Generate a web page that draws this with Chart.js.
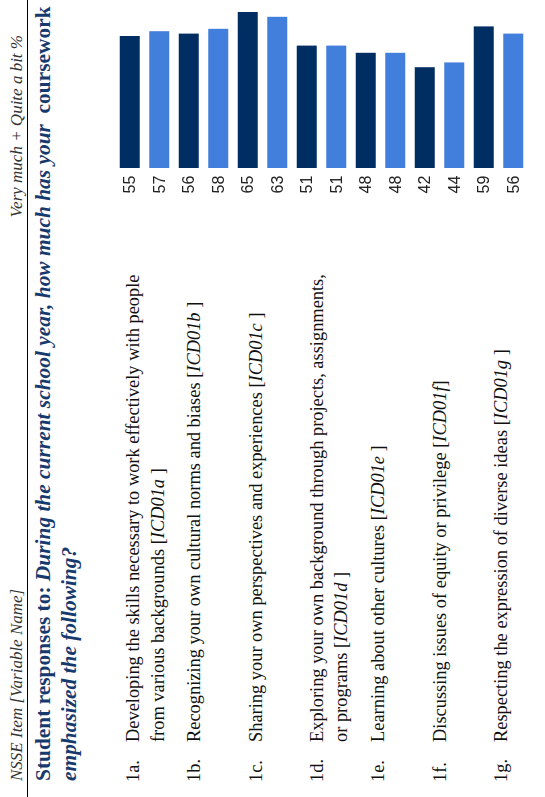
<!DOCTYPE html>
<html>
<head>
<meta charset="utf-8">
<script src="https://cdn.jsdelivr.net/npm/chart.js@4"></script>
<style>
  html, body { margin: 0; padding: 0; background: #fff; }
  body { width: 545px; height: 797px; overflow: hidden; position: relative; }
  #land {
    position: absolute; left: 0; top: 0; width: 797px; height: 545px;
    transform-origin: 0 0; transform: translateY(797px) rotate(-90deg);
    overflow: hidden; background: #fff;
    font-family: "Liberation Serif", "Times New Roman", serif; color: #111;
  }
  .hdr { position: absolute; top: 7px; font-size: 17px; line-height: 20px; font-style: italic; color: #333; white-space: nowrap; }
  #rule { position: absolute; left: 0; top: 27px; width: 797px; height: 1px; background: #000; }
  #title { position: absolute; left: 16px; top: 30px; font-size: 21.4px; line-height: 26px; font-weight: bold; color: #173a6e; white-space: nowrap; }
  .row { position: absolute; left: 0; font-size: 18.4px; line-height: 24.5px; white-space: nowrap; }
  .row .code { position: absolute; left: 15px; top: 0; }
  .row .txt { position: absolute; left: 55px; top: 0; }
  #wrap { position: absolute; left: 580px; top: 100px; width: 217px; height: 445px; }
</style>
</head>
<body>
<div id="land">
  <div class="hdr" style="left:16px">NSSE Item [Variable Name]</div>
  <div class="hdr" style="right:35px">Very much + Quite a bit %</div>
  <div id="rule"></div>
  <div id="title">Student responses to: <i>During the current school year, how much has your</i>&nbsp; coursework<br><i>emphasized the following?</i></div>
  <div id="items"></div>
  <div id="wrap"><canvas id="chart" width="217" height="445"></canvas></div>
</div>
<script>
const itemCodes = ['1a.', '1b.', '1c.', '1d.', '1e.', '1f.', '1g.'];
const itemLines = [
  ['Developing the skills necessary to work effectively with people', 'from various backgrounds'],
  ['Recognizing your own cultural norms and biases'],
  ['Sharing your own perspectives and experiences'],
  ['Exploring your own background through projects, assignments,', 'or programs'],
  ['Learning about other cultures'],
  ['Discussing issues of equity or privilege'],
  ['Respecting the expression of diverse ideas']
];
const varNames = ['ICD01a', 'ICD01b', 'ICD01c', 'ICD01d', 'ICD01e', 'ICD01f', 'ICD01g'];
const varClose = [' ]', ' ]', ' ]', ' ]', ' ]', ']', ' ]'];
const institution = [55, 56, 65, 51, 48, 42, 59];
const comparison = [57, 58, 63, 51, 48, 44, 56];

const darkBlue = '#002d62';
const lightBlue = '#427edc';

// item text on the left
const items = document.getElementById('items');
itemCodes.forEach((code, i) => {
  const row = document.createElement('div');
  row.className = 'row';
  row.style.top = (121 + i * 61.33) + 'px';
  const lines = itemLines[i].slice();
  const last = lines.length - 1;
  lines[last] = lines[last] + ' [<i>' + varNames[i] + '</i>' + varClose[i];
  row.innerHTML = '<span class="code">' + code + '</span><span class="txt">' + lines.join('<br>') + '</span>';
  items.appendChild(row);
});

const valueLabels = {
  id: 'valueLabels',
  afterDatasetsDraw(chart) {
    const ctx = chart.ctx;
    ctx.save();
    ctx.font = '16px "Liberation Sans", Arial, sans-serif';
    ctx.fillStyle = '#222';
    ctx.textAlign = 'center';
    ctx.textBaseline = 'middle';
    chart.data.datasets.forEach((ds, di) => {
      chart.getDatasetMeta(di).data.forEach((bar, j) => {
        ctx.fillText(ds.data[j], chart.chartArea.left - 16.5, bar.y + 1);
      });
    });
    ctx.restore();
  }
};

new Chart(document.getElementById('chart').getContext('2d'), {
  type: 'bar',
  data: {
    labels: itemCodes,
    datasets: [
      { label: 'Institution', data: institution, backgroundColor: darkBlue },
      { label: 'Comparison', data: comparison, backgroundColor: lightBlue }
    ]
  },
  options: {
    indexAxis: 'y',
    responsive: false,
    animation: false,
    categoryPercentage: 1,
    barPercentage: 0.678,
    layout: { padding: { left: 49, right: 0, top: 15, bottom: 17 } },
    plugins: { legend: { display: false }, tooltip: { enabled: false } },
    scales: {
      x: { display: false, min: 0, max: 70 },
      y: { display: false }
    }
  },
  plugins: [valueLabels]
});
</script>
</body>
</html>
